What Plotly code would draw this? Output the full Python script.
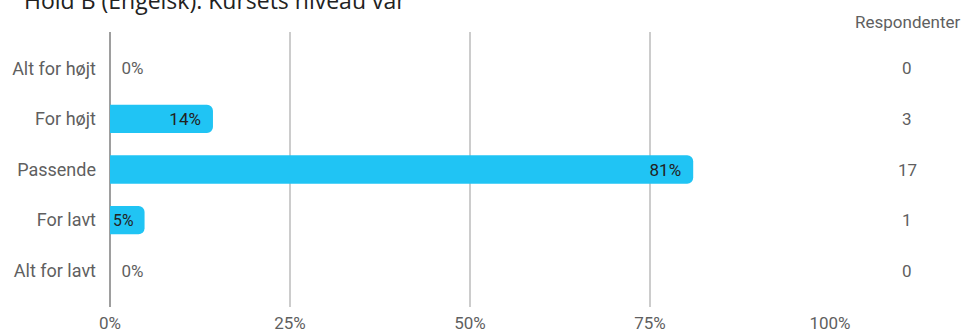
import plotly.graph_objects as go

# survey answers, top to bottom
categories = ["Alt for højt", "For højt", "Passende", "For lavt", "Alt for lavt"]
percent = [0, 14.3, 81.0, 4.8, 0]
respondents = [0, 3, 17, 1, 0]
x_ticks = [0, 25, 50, 75, 100]
x_tick_labels = ["0%", "25%", "50%", "75%", "100%"]

bar_color = "#20c4f4"
grey_text = "#5f5f5f"
font_size = 17

# zero answers sit next to the axis, the rest inside the bar end
labels = ["&nbsp;&nbsp;0%" if p == 0 else f"{round(p)}%&nbsp;&nbsp;" for p in percent]
positions = ["outside" if p == 0 else "inside" for p in percent]
label_colors = [grey_text if p == 0 else "#222222" for p in percent]

fig = go.Figure()
fig.add_trace(go.Bar(
    y=categories,
    x=percent,
    orientation="h",
    width=0.56,
    marker=dict(color=bar_color, cornerradius=6, line=dict(width=0)),
    text=labels,
    textposition=positions,
    insidetextanchor="end",
    constraintext="none",
    textfont=dict(family="Roboto", size=font_size, color=label_colors),
    cliponaxis=False,
    hoverinfo="skip",
))

# respondent counts in the right-hand column
for cat, n in zip(categories, respondents):
    fig.add_annotation(x=1.107, xref="paper", y=cat, yref="y", text=str(n),
                       showarrow=False, xanchor="center",
                       font=dict(family="Roboto", size=font_size, color=grey_text))
fig.add_annotation(x=1.107, xref="paper", y=1.0, yref="paper", text="Respondenter",
                   showarrow=False, xanchor="center", yanchor="middle", yshift=10,
                   font=dict(family="Roboto", size=font_size, color=grey_text))

# title, partly cut off at the top like the original
fig.add_annotation(x=0, xref="paper", y=1.0, yref="paper", xshift=-88, yshift=32,
                   text="Hold B (Engelsk): Kursets niveau var", showarrow=False,
                   xanchor="left", yanchor="middle",
                   font=dict(family="Open Sans", size=23, color="#222222"))

fig.update_layout(
    width=966, height=333,
    margin=dict(l=110, r=136, t=32, b=26),
    plot_bgcolor="white", paper_bgcolor="white",
    showlegend=False,
    xaxis=dict(range=[0, 100], tickvals=x_ticks, ticktext=x_tick_labels,
               showgrid=True, gridcolor="#cccccc", gridwidth=1.5,
               zeroline=True, zerolinecolor="#9e9e9e", zerolinewidth=2,
               showline=False, ticks="", fixedrange=True, ticklabelstandoff=4,
               automargin=False,
               tickfont=dict(family="Roboto", size=font_size, color=grey_text)),
    yaxis=dict(type="category", categoryorder="array", categoryarray=categories,
               range=[4.72, -0.72], showgrid=False, showline=False, ticks="",
               ticklabelstandoff=13, automargin=False, fixedrange=True,
               tickfont=dict(family="Roboto", size=18, color=grey_text)),
)

fig.write_html("out.html", config={"displayModeBar": False},
               post_script="document.body.style.margin = '0';")
